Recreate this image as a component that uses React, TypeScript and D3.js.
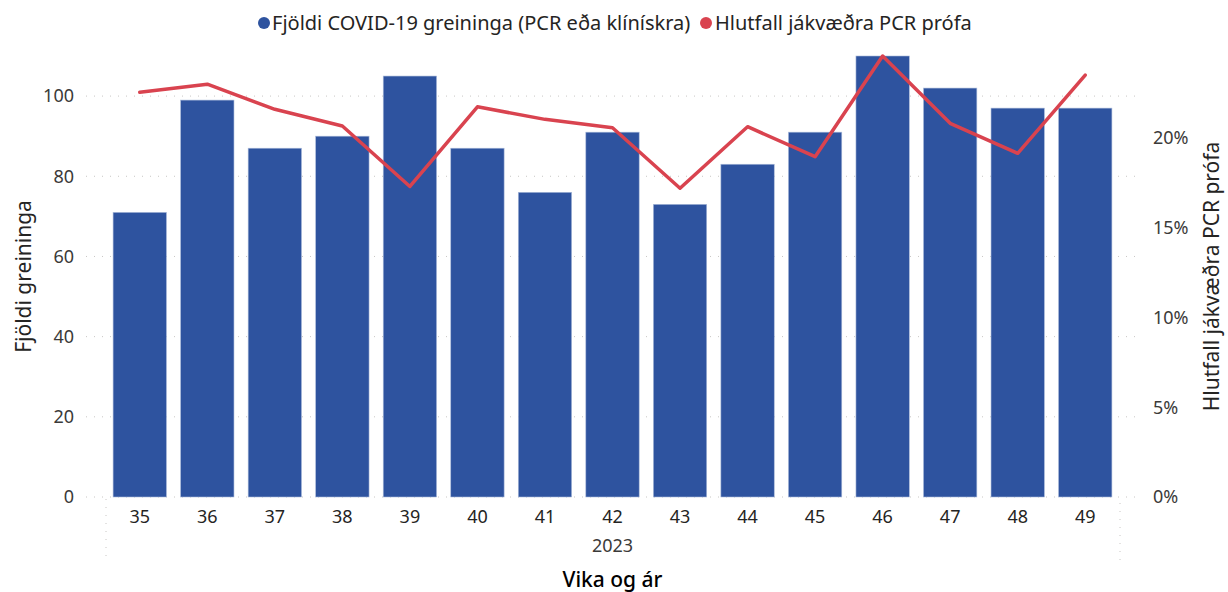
import React from 'react';
import * as d3 from 'd3';

// gögn lesin af myndinni
const weeks = ['35', '36', '37', '38', '39', '40', '41', '42', '43', '44', '45', '46', '47', '48', '49'];
const cases = [71, 99, 87, 90, 105, 87, 76, 91, 73, 83, 91, 110, 102, 97, 97];
const positiveRate = [0.2255, 0.2300, 0.2160, 0.2067, 0.1730, 0.2174, 0.2104, 0.2057, 0.1720, 0.2063, 0.1896, 0.2457, 0.2082, 0.1915, 0.2351];
const leftTicks = [0, 20, 40, 60, 80, 100];
const rightTicks = [0, 0.05, 0.1, 0.15, 0.2];
const yearLabel = '2023';

const W = 1228;
const H = 592;
const font = '"Segoe UI", "Noto Sans", sans-serif';
const blue = '#2E539F';
const red = '#D9434F';
const tickColor = '#3B3A39';
const titleColor = '#252423';

const App = () => {
    const x = d3.scaleBand<string>()
        .domain(weeks)
        .range([106, 1119])
        .paddingInner(0.21)
        .paddingOuter(0.105);

    const yLeft = d3.scaleLinear().domain([0, 110]).range([497, 56]);
    const yRight = d3.scaleLinear().domain([0, 0.2457]).range([497, 56]);

    const line = d3.line<number>()
        .x((_, i) => (x(weeks[i]) as number) + x.bandwidth() / 2)
        .y(d => yRight(d));

    const fmtPct = d3.format('.0%');
    const midY = (yLeft(0) + yLeft(110)) / 2;
    const midX = (x.range()[0] + x.range()[1]) / 2;

    return (
        <svg width={W} height={H} style={{ position: 'absolute', left: 0, top: 0, fontFamily: font }}>
            <rect width={W} height={H} fill="#fff" />

            {/* Legend */}
            <g>
                <circle cx={264} cy={23} r={6} fill={blue} />
                <text x={272} y={30} fontSize={20} fill={titleColor}>Fjöldi COVID-19 greininga (PCR eða klínískra)</text>
                <circle cx={706} cy={23} r={6} fill={red} />
                <text x={715} y={30} fontSize={20} fill={titleColor}>Hlutfall jákvæðra PCR prófa</text>
            </g>

            {/* Gridlines */}
            {leftTicks.map(t => (
                <line key={t} x1={86} x2={1140} y1={yLeft(t)} y2={yLeft(t)}
                    stroke="#C8C6C4" strokeWidth={1} strokeDasharray="1,7" />
            ))}

            {/* Vertical separators */}
            <line x1={106} x2={106} y1={499} y2={562} stroke="#C8C6C4" strokeDasharray="1,7" />
            <line x1={1120} x2={1120} y1={503} y2={562} stroke="#C8C6C4" strokeDasharray="1,7" />

            {/* Bars */}
            {cases.map((v, i) => (
                <rect key={weeks[i]}
                    x={x(weeks[i])}
                    y={yLeft(v)}
                    width={x.bandwidth()}
                    height={yLeft(0) - yLeft(v)}
                    fill={blue}
                    stroke="#A9B9D9"
                    strokeWidth={0.6} />
            ))}

            {/* Line */}
            <path d={line(positiveRate) || ''} fill="none" stroke={red} strokeWidth={3.5} strokeLinejoin="round" strokeLinecap="round" />

            {/* Left axis */}
            {leftTicks.map(t => (
                <text key={t} x={74} y={yLeft(t)} dy="0.35em" textAnchor="end" fontSize={18} fill={tickColor}>{t}</text>
            ))}
            <text transform={`translate(24, ${midY}) rotate(-90)`} textAnchor="middle" dy="0.35em"
                fontSize={21} fill={titleColor}>Fjöldi greininga</text>

            {/* Right axis */}
            {rightTicks.map(t => (
                <text key={t} x={1153} y={yRight(t)} dy="0.35em" textAnchor="start" fontSize={18} fill={tickColor}>{fmtPct(t)}</text>
            ))}
            <text transform={`translate(1212, ${midY}) rotate(-90)`} textAnchor="middle" dy="0.35em"
                fontSize={21} fill={titleColor}>Hlutfall jákvæðra PCR prófa</text>

            {/* X axis */}
            {weeks.map(w => (
                <text key={w} x={(x(w) as number) + x.bandwidth() / 2} y={517} dy="0.35em" textAnchor="middle"
                    fontSize={18} fill={titleColor}>{w}</text>
            ))}
            <text x={midX} y={546} dy="0.35em" textAnchor="middle" fontSize={18} fill={tickColor}>{yearLabel}</text>
            <text x={midX} y={580} dy="0.35em" textAnchor="middle" fontSize={21}
                fontWeight={500} fill="#000">Vika og ár</text>
        </svg>
    );
};

export default App;
